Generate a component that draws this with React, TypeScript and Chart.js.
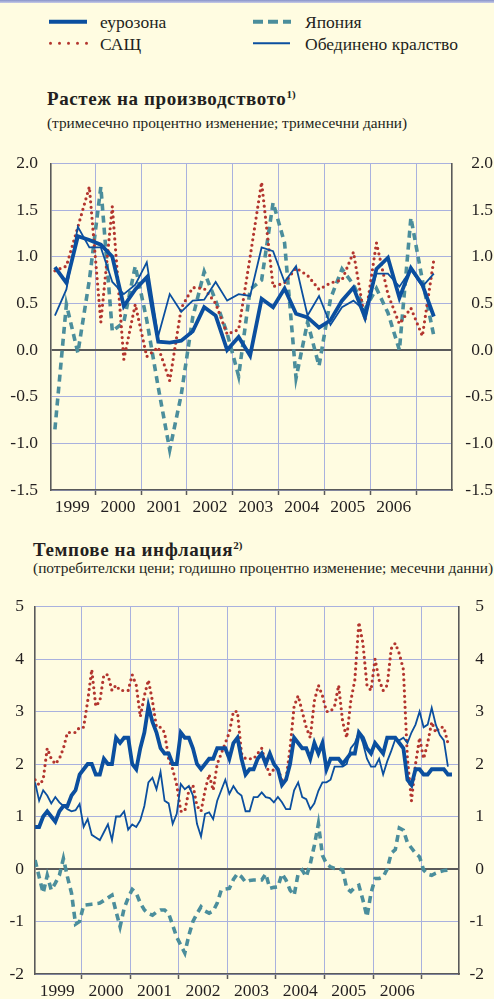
import React, { useEffect, useRef } from 'react';
import { Chart, registerables } from 'chart.js';

Chart.register(...registerables);

const FONT = "'Liberation Serif', 'Times New Roman', serif";
const BG = '#fffce1';
const BLUE = '#0b4f9f';
const RED = '#b3352e';
const TEAL = '#4b8e9c';
const GRID = '#a9b1de';
const AXIS = '#5a5a5a';
const TEXT = '#231f20';

// ---------- data ----------
const yearLabels = ['1999', '2000', '2001', '2002', '2003', '2004', '2005', '2006'];
const seriesNames = ['еурозона', 'САЩ', 'Япония', 'Обединено кралство'];

const growthTicks = [-1.5, -1.0, -0.5, 0, 0.5, 1.0, 1.5, 2.0];
const inflationTicks = [-2, -1, 0, 1, 2, 3, 4, 5];

// quarterly, 1999 Q1 – 2007 Q2
const growthEuro = [0.89, 0.72, 1.22, 1.18, 1.13, 1.0, 0.47, 0.65, 0.78, 0.09, 0.08, 0.1, 0.2, 0.46, 0.37, 0.0, 0.14, -0.06, 0.55, 0.46, 0.66, 0.39, 0.35, 0.24, 0.32, 0.53, 0.67, 0.35, 0.87, 0.99, 0.56, 0.88, 0.7, 0.36];
const growthUS = [0.85, 0.9, 1.32, 1.75, 0.3, 1.54, -0.1, 0.49, -0.07, 0.03, -0.33, 0.45, 0.67, 0.66, 0.5, 0.17, 0.22, 1.0, 1.8, 0.68, 0.72, 0.88, 0.8, 0.65, 0.72, 0.75, 1.05, 0.32, 1.15, 0.6, 0.28, 0.45, 0.15, 0.97];
const growthJapan = [-0.85, 0.49, -0.03, 0.75, 1.75, 0.2, 0.3, 0.9, 0.32, -0.4, -1.07, -0.48, 0.35, 0.84, 0.53, 0.18, -0.28, 0.65, 0.75, 1.58, 1.15, -0.3, 0.3, -0.17, 0.55, 0.87, 0.7, 0.44, 0.66, 0.4, 0.0, 1.42, 0.75, 0.15];
const growthUK = [0.37, 0.65, 1.32, 1.1, 1.1, 0.73, 0.6, 0.7, 0.94, 0.15, 0.6, 0.41, 0.53, 0.54, 0.73, 0.53, 0.6, 0.58, 1.1, 1.06, 0.73, 0.9, 0.37, 0.58, 0.27, 0.46, 0.53, 0.42, 0.82, 0.82, 0.68, 0.86, 0.68, 0.82];

// monthly, from January 1999
const inflEuro = [
  0.8, 0.8, 1.0, 1.1, 1.0, 0.9, 1.1, 1.2, 1.2, 1.4, 1.5, 1.8,
  1.9, 2.0, 2.0, 1.8, 1.8, 2.1, 2.0, 2.0, 2.5, 2.4, 2.5, 2.5,
  2.0, 1.9, 2.3, 2.6, 3.1, 2.8, 2.6, 2.3, 2.2, 2.2, 2.0, 2.0,
  2.6, 2.5, 2.5, 2.3, 2.0, 1.9, 2.0, 2.1, 2.1, 2.3, 2.3, 2.3,
  2.1, 2.4, 2.5, 2.1, 1.8, 1.9, 1.9, 2.1, 2.2, 2.0, 2.2, 2.0,
  1.9, 1.6, 1.7, 2.0, 2.5, 2.4, 2.3, 2.3, 2.1, 2.4, 2.2, 2.4,
  1.9, 2.1, 2.1, 2.1, 2.0, 2.1, 2.2, 2.2, 2.6, 2.5, 2.3, 2.2,
  2.4, 2.3, 2.2, 2.5, 2.5, 2.5, 2.4, 2.3, 1.7, 1.6, 1.9, 1.9,
  1.8, 1.8, 1.9, 1.9, 1.9, 1.9, 1.8, 1.8,
];
const inflUS = [
  1.7, 1.6, 1.7, 2.3, 2.1, 2.0, 2.1, 2.3, 2.6, 2.6, 2.6, 2.7,
  2.7, 3.2, 3.8, 3.1, 3.2, 3.7, 3.7, 3.4, 3.5, 3.4, 3.4, 3.4,
  3.7, 3.5, 2.9, 3.3, 3.6, 3.2, 2.7, 2.7, 2.6, 2.1, 1.9, 1.6,
  1.1, 1.1, 1.5, 1.6, 1.2, 1.1, 1.5, 1.8, 1.5, 2.0, 2.2, 2.4,
  2.6, 3.0, 3.0, 2.2, 2.1, 2.1, 2.1, 2.2, 2.3, 2.0, 1.8, 1.9,
  1.9, 1.7, 1.7, 2.3, 3.1, 3.3, 3.0, 2.7, 2.5, 3.2, 3.5, 3.3,
  3.0, 3.0, 3.1, 3.5, 2.8, 2.5, 3.2, 3.6, 4.7, 4.3, 3.5, 3.4,
  4.0, 3.6, 3.4, 3.5, 4.2, 4.3, 4.1, 3.8, 2.1, 1.3, 2.0, 2.5,
  2.1, 2.4, 2.8, 2.6, 2.7, 2.7, 2.4,
];
const inflJapan = [
  0.17, -0.15, -0.46, -0.12, -0.4, -0.27, -0.12, 0.2, -0.15, -0.46, -1.05, -1.0,
  -0.69, -0.68, -0.67, -0.66, -0.65, -0.6, -0.55, -0.5, -0.81, -1.1, -0.75, -0.55,
  -0.39, -0.46, -0.65, -0.78, -0.85, -0.88, -0.82, -0.78, -0.78, -0.85, -1.07, -1.3,
  -1.45, -1.6, -1.26, -1.0, -0.85, -0.72, -0.8, -0.84, -0.8, -0.65, -0.4, -0.38,
  -0.37, -0.2, -0.09, -0.15, -0.25, -0.22, -0.21, -0.21, -0.21, -0.09, -0.37, -0.35,
  -0.34, -0.09, -0.21, -0.4, -0.5, -0.09, -0.02, -0.15, 0.1, 0.45, 0.86, 0.26,
  0.1, 0.04, 0.01, 0.0, -0.02, -0.37, -0.43, -0.35, -0.31, -0.59, -0.91, -0.46,
  -0.18, -0.18, -0.15, 0.0, 0.3, 0.37, 0.78, 0.74, 0.5, 0.4, 0.3, 0.23,
  -0.02, -0.1, -0.12, -0.08, -0.05, -0.03, -0.02,
];
const inflUK = [
  1.65, 1.3, 1.5, 1.4, 1.25, 1.37, 1.27, 1.2, 1.14, 1.1, 1.12, 1.24,
  0.8, 0.95, 0.65, 0.6, 0.55, 0.7, 0.85, 0.55, 1.0, 1.0, 1.1, 0.75,
  0.85, 0.8, 0.93, 1.2, 1.65, 1.74, 1.52, 1.85, 1.3, 1.25, 0.86, 1.05,
  1.62, 1.52, 1.58, 1.4, 0.86, 0.62, 1.05, 1.08, 0.95, 1.3, 1.5, 1.7,
  1.43, 1.58, 1.46, 1.4, 1.1, 1.1, 1.37, 1.37, 1.46, 1.37, 1.35, 1.27,
  1.37, 1.27, 1.14, 1.14, 1.5, 1.65, 1.37, 1.33, 1.14, 1.25, 1.49, 1.65,
  1.65, 1.7, 1.95, 1.95, 1.95, 2.0, 2.3, 2.4, 2.6, 2.4, 2.1, 1.95,
  1.95, 2.1, 1.8, 2.05, 2.25, 2.47, 2.45, 2.5, 2.4, 2.6, 2.75, 3.0,
  2.7, 2.75, 3.07, 2.75, 2.55, 2.45, 1.95,
];

const X_MIN = 1999.04;
const X_MAX = 2007.77;
const FIRST_YEAR = 1999;

const quarterly = (arr: number[]) => arr.map((v, i) => ({ x: FIRST_YEAR + (i + 0.5) / 4, y: v }));
const monthly = (arr: number[]) => arr.map((v, i) => ({ x: FIRST_YEAR + (i + 0.5) / 12, y: v }));

const isYear = (v: number) => Math.abs(v - Math.round(v)) < 0.01;

function makeDatasets(euro: any[], us: any[], japan: any[], uk: any[]) {
  return [
    { label: seriesNames[0], data: euro, borderColor: BLUE, borderWidth: 3.8, borderJoinStyle: 'miter' },
    { label: seriesNames[3], data: uk, borderColor: BLUE, borderWidth: 1.8 },
    { label: seriesNames[1], data: us, borderColor: RED, borderWidth: 3.2, borderDash: [0, 5.5], borderCapStyle: 'round' },
    { label: seriesNames[2], data: japan, borderColor: TEAL, borderWidth: 3.6, borderDash: [7, 5], borderCapStyle: 'butt' },
  ];
}

function makeConfig(p: {
  datasets: any[]; yTicks: number[]; decimals: number; leftW: number; leftPad: number;
  rightW: number; padTop: number; padRight: number; xH: number;
}): any {
  const tickFont = { family: FONT, size: 17.5 };
  const yMin = p.yTicks[0];
  const yMax = p.yTicks[p.yTicks.length - 1];
  const fmt = (v: any) => Number(v).toFixed(p.decimals);
  return {
    type: 'line',
    data: { datasets: p.datasets },
    options: {
      animation: false,
      responsive: false,
      maintainAspectRatio: false,
      layout: { padding: { top: p.padTop, right: p.padRight, left: 0, bottom: 0 }, autoPadding: false },
      plugins: { legend: { display: false }, tooltip: { enabled: false } },
      elements: { point: { radius: 0 }, line: { tension: 0 } },
      scales: {
        x: {
          type: 'linear',
          min: X_MIN,
          max: X_MAX,
          afterBuildTicks: (scale: any) => {
            const t: any[] = [];
            yearLabels.forEach((_, k) => {
              t.push({ value: FIRST_YEAR + k + 0.5 });
              t.push({ value: FIRST_YEAR + k + 1 });
            });
            scale.ticks = t;
          },
          afterFit: (scale: any) => { scale.height = p.xH; },
          grid: {
            color: (ctx: any) => (ctx.tick && isYear(ctx.tick.value) ? GRID : 'rgba(0,0,0,0)'),
            tickColor: (ctx: any) => (ctx.tick && isYear(ctx.tick.value) ? AXIS : 'rgba(0,0,0,0)'),
            lineWidth: 1,
            tickWidth: 1.5,
            tickLength: 5,
          },
          border: { color: AXIS, width: 1.6 },
          ticks: {
            autoSkip: false,
            maxRotation: 0,
            padding: 2,
            color: TEXT,
            font: tickFont,
            callback: (v: any) => {
              const n = Number(v);
              if (isYear(n)) return '';
              return yearLabels[Math.floor(n) - FIRST_YEAR] ?? '';
            },
          },
        },
        y: {
          type: 'linear',
          position: 'left',
          min: yMin,
          max: yMax,
          afterBuildTicks: (scale: any) => { scale.ticks = p.yTicks.map((v) => ({ value: v })); },
          afterFit: (scale: any) => { scale.width = p.leftW; },
          grid: {
            drawTicks: false,
            color: (ctx: any) => (ctx.tick && ctx.tick.value === 0 ? AXIS : GRID),
            lineWidth: (ctx: any) => (ctx.tick && ctx.tick.value === 0 ? 2 : 1),
          },
          border: { color: AXIS, width: 1.6 },
          ticks: { padding: p.leftPad, color: TEXT, font: tickFont, callback: fmt },
        },
        y2: {
          type: 'linear',
          position: 'right',
          min: yMin,
          max: yMax,
          afterBuildTicks: (scale: any) => { scale.ticks = p.yTicks.map((v) => ({ value: v })); },
          afterFit: (scale: any) => { scale.width = p.rightW; },
          grid: { drawOnChartArea: false, drawTicks: false },
          border: { color: AXIS, width: 1.6 },
          ticks: { crossAlign: 'far', color: TEXT, font: tickFont, callback: fmt },
        },
      },
    },
  };
}

const abs = (left: number, top: number, extra: React.CSSProperties = {}): React.CSSProperties => ({
  position: 'absolute', left, top, whiteSpace: 'nowrap', fontFamily: FONT, color: TEXT, lineHeight: 1, ...extra,
});

export default function App() {
  const ref1 = useRef<HTMLCanvasElement>(null);
  const ref2 = useRef<HTMLCanvasElement>(null);

  useEffect(() => {
    Chart.defaults.font.family = FONT;
    const c1 = new Chart(ref1.current as HTMLCanvasElement, makeConfig({
      datasets: makeDatasets(quarterly(growthEuro), quarterly(growthUS), quarterly(growthJapan), quarterly(growthUK)),
      yTicks: growthTicks, decimals: 1, leftW: 51, leftPad: 13, rightW: 41, padTop: 15, padRight: 1, xH: 35,
    }));
    const c2 = new Chart(ref2.current as HTMLCanvasElement, makeConfig({
      datasets: makeDatasets(monthly(inflEuro), monthly(inflUS), monthly(inflJapan), monthly(inflUK)),
      yTicks: inflationTicks, decimals: 0, leftW: 35, leftPad: 11, rightW: 25, padTop: 19, padRight: 10, xH: 25,
    }));
    return () => { c1.destroy(); c2.destroy(); };
  }, []);

  const legendText = { fontSize: 17.5 };
  const titleText: React.CSSProperties = { fontSize: 19, fontWeight: 'bold', letterSpacing: 0.6 };
  const supText: React.CSSProperties = { fontSize: 11, position: 'relative', top: -7, letterSpacing: 0 };
  return (
    <div style={{ position: 'absolute', left: 0, top: 0, width: 494, height: 999, background: BG, overflow: 'hidden' }}>
      <div style={{ position: 'absolute', left: 0, top: 0, width: 494, height: 3, background: 'linear-gradient(#8893c9, #c7cbe8)' }} />
      <svg width={494} height={60} style={{ position: 'absolute', left: 0, top: 0 }}>
        <line x1={49} y1={21.7} x2={87} y2={21.7} stroke={BLUE} strokeWidth={4} />
        <line x1={253} y1={21.7} x2={291} y2={21.7} stroke={TEAL} strokeWidth={4} strokeDasharray="10 5" />
        <line x1={50.5} y1={43.3} x2={87} y2={43.3} stroke={RED} strokeWidth={3} strokeDasharray="0 9" strokeLinecap="round" />
        <line x1={253} y1={43.3} x2={290} y2={43.3} stroke={BLUE} strokeWidth={2} />
      </svg>
      <div style={abs(100, 13.5, legendText)}>{seriesNames[0]}</div>
      <div style={abs(305, 13.5, legendText)}>{seriesNames[2]}</div>
      <div style={abs(100, 35.5, legendText)}>{seriesNames[1]}</div>
      <div style={abs(305, 35.5, legendText)}>{seriesNames[3]}</div>

      <div style={abs(47, 89, titleText)}>
        Растеж на производството<span style={supText}>1)</span>
      </div>
      <div style={abs(47, 115, { fontSize: 15.3 })}>(тримесечно процентно изменение; тримесечни данни)</div>
      <canvas ref={ref1} width={494} height={385} style={{ position: 'absolute', left: 0, top: 140, display: 'block' }} />

      <div style={abs(33, 540, titleText)}>
        Темпове на инфлация<span style={supText}>2)</span>
      </div>
      <div style={abs(33, 559.5, { fontSize: 15.4 })}>(потребителски цени; годишно процентно изменение; месечни данни)</div>
      <canvas ref={ref2} width={494} height={414} style={{ position: 'absolute', left: 0, top: 585, display: 'block' }} />
    </div>
  );
}
